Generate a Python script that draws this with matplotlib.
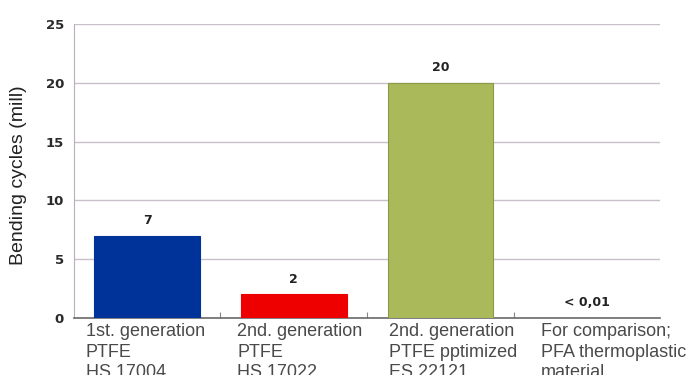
import matplotlib.pyplot as plt
from matplotlib.transforms import blended_transform_factory

categories = [
    "1st. generation\nPTFE\nHS 17004",
    "2nd. generation\nPTFE\nHS 17022",
    "2nd. generation\nPTFE pptimized\nES 22121",
    "For comparison;\nPFA thermoplastic\nmaterial",
]
values = [7, 2, 20, 0.01]
value_labels = ["7", "2", "20", "< 0,01"]
colors = ["#003399", "#ee0000", "#aab95a", "#ffffff"]
edges = ["#003399", "#ee0000", "#8c9a48", "#ffffff"]
y_ticks = [0, 5, 10, 15, 20, 25]

fig = plt.figure(figsize=(6.9, 3.75), dpi=100)
ax = fig.add_axes([0.107, 0.152, 0.850, 0.784])

x = list(range(len(categories)))
width = 0.72
ax.bar(x[:3], values[:3], width=width, color=colors[:3], edgecolor=edges[:3],
       linewidth=0.8, zorder=3)

for xi, v, lab in zip(x, values, value_labels):
    ax.text(xi, v + 1.3, lab, ha="center", va="center", fontsize=9,
            fontweight="bold", color="#222222", family="DejaVu Sans")

ax.set_xlim(-0.5, 3.5)
ax.set_ylim(0, 25)
ax.set_yticks(y_ticks)
ax.set_yticklabels([str(t) for t in y_ticks], fontsize=9.5, fontweight="bold",
                   color="#2a2a2a")
ax.grid(axis="y", color="#c9bfc9", linewidth=1.0, zorder=0)
ax.set_axisbelow(True)

ax.set_xticks([0.5, 1.5, 2.5])
ax.set_xticklabels([])
ax.tick_params(axis="x", direction="in", length=4, color="#888888")
ax.tick_params(axis="y", length=0, pad=7)

for side in ("top", "right"):
    ax.spines[side].set_visible(False)
ax.spines["left"].set_color("#b8b0b8")
ax.spines["bottom"].set_color("#6a6a6a")
ax.spines["bottom"].set_linewidth(1.2)

# category labels hang left-aligned below each slot and run off the bottom
trans = blended_transform_factory(ax.transData, ax.transAxes)
for xi, cat in zip(x, categories):
    ax.text(xi - 0.42 + 0.035 * xi, -0.018, cat, transform=trans, ha="left",
            va="top", fontsize=13, color="#4a4a4a", family="Liberation Sans",
            linespacing=1.26)

ax.set_ylabel("Bending cycles (mill)", fontsize=14, color="#222222",
              family="Liberation Sans")
ax.yaxis.set_label_coords(-0.08, 0.485)

fig.savefig("out.png", dpi=100)
